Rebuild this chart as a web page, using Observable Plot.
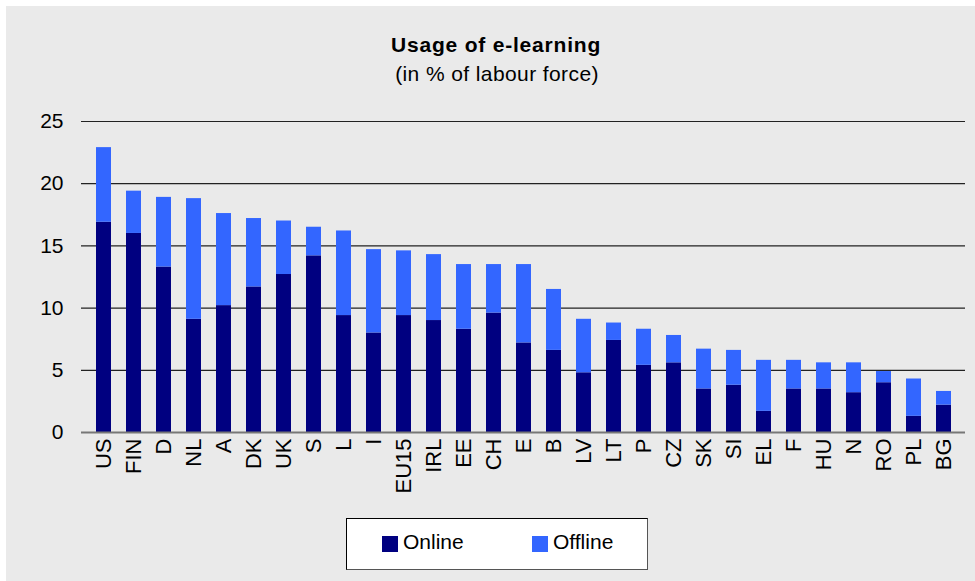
<!DOCTYPE html>
<html>
<head>
<meta charset="utf-8">
<script src="https://cdn.jsdelivr.net/npm/d3@7"></script>
<script src="https://cdn.jsdelivr.net/npm/@observablehq/plot@0.6"></script>
<style>
  html, body { margin: 0; padding: 0; background: #fff; }
  #wrap { position: relative; width: 975px; height: 581px; overflow: hidden; font-family: "Liberation Sans", Arial, sans-serif; }
  #bg { position: absolute; left: 6px; top: 6px; right: 0; bottom: 0; background: #eaeaea; }
  #chart { position: absolute; left: 0; top: 0; }
  .t { position: absolute; white-space: nowrap; transform: translateX(-50%); color: #000; }
  #title { left: 496px; top: 33px; font-size: 21px; font-weight: bold; letter-spacing: 0.8px; }
  #subtitle { left: 497px; top: 62px; font-size: 21px; letter-spacing: 0.4px; }
  #legend { position: absolute; left: 346px; top: 518px; width: 300px; height: 50px; background: #fff; border: 1px solid #000; border-right-color: #555; border-bottom-color: #555; }
  .sw { position: absolute; width: 16px; height: 16px; top: 17px; }
  .lt { position: absolute; top: 11px; font-size: 21px; color: #000; }
</style>
</head>
<body>
<div id="wrap">
  <div id="bg"></div>
  <div id="chart"></div>
  <div class="t" id="title">Usage of e-learning</div>
  <div class="t" id="subtitle">(in % of labour force)</div>
  <div id="legend"></div>
</div>
<script>
const countries = ["US","FIN","D","NL","A","DK","UK","S","L","I","EU15","IRL","EE","CH","E","B","LV","LT","P","CZ","SK","SI","EL","F","HU","N","RO","PL","BG"];
const online  = [16.9,16.0,13.3,9.1,10.2,11.7,12.7,14.2,9.4,8.0,9.4,9.0,8.3,9.6,7.2,6.6,4.8,7.4,5.4,5.6,3.5,3.8,1.7,3.5,3.5,3.2,4.0,1.3,2.2];
const offline = [6.0,3.4,5.6,9.7,7.4,5.5,4.3,2.3,6.8,6.7,5.2,5.3,5.2,3.9,6.3,4.9,4.3,1.4,2.9,2.2,3.2,2.8,4.1,2.3,2.1,2.4,0.9,3.0,1.1];
const seriesNames = ["Online","Offline"];
const seriesColors = ["#000080","#3366ff"];
const yTicks = [0,5,10,15,20,25];

const rows = [];
countries.forEach((c, i) => {
  rows.push({country: c, series: "Online", value: online[i]});
  rows.push({country: c, series: "Offline", value: offline[i]});
});

const chart = Plot.plot({
  width: 975,
  height: 581,
  marginLeft: 81,
  marginRight: 10,
  marginTop: 121,
  marginBottom: 149,
  style: {background: "transparent", fontFamily: "Liberation Sans, Arial, sans-serif", fontSize: "21px", color: "#000"},
  x: {domain: countries, paddingInner: 0.5, paddingOuter: 0.25, label: null},
  y: {domain: [0, 25], label: null},
  color: {domain: seriesNames, range: seriesColors},
  marks: [
    Plot.gridY(yTicks.filter(d => d > 0), {stroke: "#222", strokeOpacity: 1, strokeWidth: 1.2}),
    Plot.barY(rows, {x: "country", y: "value", fill: "series"}),
    Plot.ruleY([0], {stroke: "#777", strokeWidth: 2}),
    Plot.axisY({ticks: yTicks, tickSize: 0, tickPadding: 18, fontSize: 21, label: null}),
    Plot.axisX({tickSize: 0, tickPadding: 6, tickRotate: -90, fontSize: 22, label: null})
  ]
});
document.getElementById("chart").appendChild(chart);

const legend = document.getElementById("legend");
const lpos = [{sw: 35, tx: 56}, {sw: 185, tx: 206}];
seriesNames.forEach((s, i) => {
  const sw = document.createElement("div");
  sw.className = "sw";
  sw.style.left = lpos[i].sw + "px";
  sw.style.background = seriesColors[i];
  legend.appendChild(sw);
  const t = document.createElement("div");
  t.className = "lt";
  t.style.left = lpos[i].tx + "px";
  t.textContent = s;
  legend.appendChild(t);
});
</script>
</body>
</html>
